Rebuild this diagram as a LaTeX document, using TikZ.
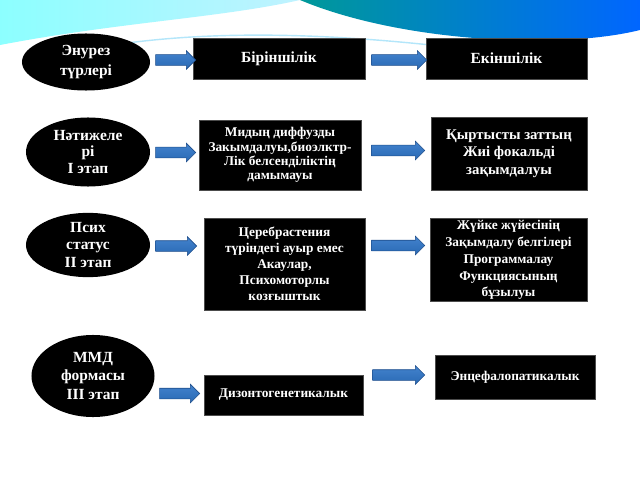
\documentclass[tikz,border=0pt]{standalone}
\usepackage{fontspec}
\setmainfont{Liberation Serif}
\usepackage{tikz}
\usetikzlibrary{shapes,shapes.arrows}

\definecolor{arrowblue}{RGB}{46,117,200}
\definecolor{arrowedge}{RGB}{30,78,140}

\begin{document}
\begin{tikzpicture}[x=0.025cm,y=-0.025cm]
    \tikzstyle{stage}=[ellipse,fill=black,text=white,font=\bfseries\fontsize{11}{13}\selectfont,align=center,inner sep=0pt]
    \tikzstyle{kind}=[rectangle,fill=black,draw=black!70,text=white,font=\bfseries\fontsize{9.5}{11}\selectfont,align=center,inner sep=1pt]
    \tikzstyle{fatarrow}=[single arrow,top color=arrowblue!90!white,bottom color=arrowblue!90!black,draw=arrowedge,line width=0.4pt,inner xsep=0pt,inner ysep=0.125cm,minimum width=0pt,single arrow head extend=0.1cm,single arrow tip angle=90]
    \useasboundingbox (0,0) rectangle (640,480);
    \fill[white] (0,0) rectangle (640,480);
    \shade[left color=cyan!45!white,right color=blue!20!cyan!25!white] (0,0) -- (300,0) .. controls (220,18) and (120,22) .. (0,45) -- cycle;
    \shade[left color=teal!80!cyan,right color=blue!60!cyan] (300,0) -- (640,0) -- (640,30) .. controls (560,50) and (400,42) .. (300,0) -- cycle;
    \draw[cyan!30,line width=1pt] (120,44) .. controls (220,30) and (330,34) .. (440,46);

    \node[stage,minimum width=3.2cm,minimum height=1.425cm,font=\bfseries\fontsize{11}{14.5}\selectfont] (e1) at (86,62) {Энурез\\түрлері};
    \node[stage,minimum width=3.1cm,minimum height=1.725cm,font=\bfseries\fontsize{11}{11.5}\selectfont] (e2) at (88,152) {Нәтижеле\\рі\\I этап};
    \node[stage,minimum width=3.1cm,minimum height=1.55cm,font=\bfseries\fontsize{11}{12.5}\selectfont] (e3) at (88,245) {Псих\\статус\\II этап};
    \node[stage,minimum width=3.075cm,minimum height=2.05cm,font=\bfseries\fontsize{11}{13.5}\selectfont] (e4) at (93,376) {ММД\\формасы\\III этап};

    \node[kind,minimum width=4.3cm,minimum height=1.025cm,font=\bfseries\fontsize{11}{13}\selectfont] (b1) at (279,58.5) {Біріншілік};
    \node[kind,minimum width=4.025cm,minimum height=1.025cm,font=\bfseries\fontsize{11}{13}\selectfont] (c1) at (506.5,58.5) {Екіншілік};
    \node[kind,minimum width=4.05cm,minimum height=1.75cm,font=\bfseries\fontsize{9.5}{10.2}\selectfont] (b2) at (280,155) {Мидың диффузды\\Закымдалуы,биоэлктр-\\Лік белсенділіктің\\дамымауы};
    \node[kind,minimum width=3.9cm,minimum height=1.825cm,font=\bfseries\fontsize{10.5}{12.5}\selectfont] (c2) at (509,153.5) {Қыртысты заттың\\Жиі фокальді\\зақымдалуы};
    \node[kind,minimum width=4.025cm,minimum height=2.3cm,font=\bfseries\fontsize{9.5}{11.4}\selectfont] (b3) at (284.5,264) {Церебрастения\\түріндегі ауыр емес\\Акаулар,\\Психомоторлы\\козғыштык};
    \node[kind,minimum width=3.925cm,minimum height=2.05cm,font=\bfseries\fontsize{9.5}{12}\selectfont] (c3) at (508.5,260) {Жүйке жүйесінің\\Зақымдалу белгілері\\Программалау\\Функциясының\\бұзылуы};
    \node[kind,minimum width=3.975cm,minimum height=1cm] (b4) at (283.5,395) {Дизонтогенетикалык};
    \node[kind,minimum width=4cm,minimum height=1.1cm] (c4) at (515,377) {Энцефалопатикалык};

    \node[fatarrow,minimum height=1cm] (a1) at (173,60) {};
    \node[fatarrow,minimum height=1cm] (a2) at (173,152.5) {};
    \node[fatarrow,minimum height=1.025cm] (a3) at (173.5,246) {};
    \node[fatarrow,minimum height=1cm] (a4) at (177,393.5) {};
    \node[fatarrow,minimum height=1.375cm] (d1) at (396.5,60) {};
    \node[fatarrow,minimum height=1.325cm] (d2) at (395.5,150.5) {};
    \node[fatarrow,minimum height=1.325cm] (d3) at (395.5,245.5) {};
    \node[fatarrow,minimum height=1.3cm] (d4) at (396,375) {};
\end{tikzpicture}
\end{document}
